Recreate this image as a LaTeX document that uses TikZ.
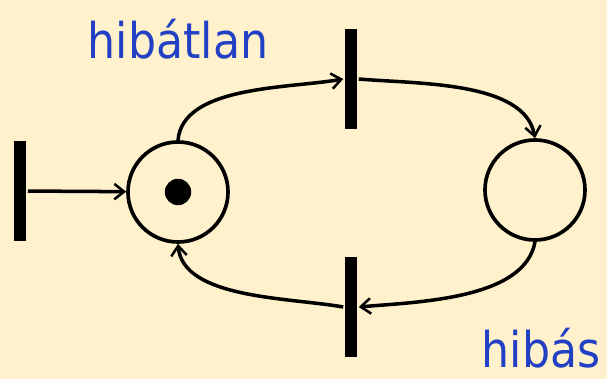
\documentclass[tikz,border=0pt]{standalone}
\usepackage{fontspec}
\setsansfont{DejaVu Sans Condensed}
\usepackage{tikz}
\usetikzlibrary{
    positioning,
    arrows.meta
}
\definecolor{hatter}{HTML}{FFF1CC}
\definecolor{felirat}{HTML}{2240C4}
\tikzset{
    >={Straight Barb[length=7pt,width=11pt,line width=1.8pt]},
    hely/.style={
        circle,
        draw,
        line width=2.6pt,
        minimum size=2.5cm,
        inner sep=0pt
    },
    atmenet/.style={
        rectangle,
        fill=black,
        minimum width=0.3cm,
        minimum height=2.5cm,
        inner sep=0pt
    },
    jelzo/.style={
        circle,
        fill=black,
        minimum size=0.66cm,
        inner sep=0pt
    },
    cimke/.style={
        font=\sffamily\fontsize{35}{40}\selectfont,
        text=felirat,
        inner sep=0pt
    }
}

\begin{document}
\begin{tikzpicture}[
    x=0.025cm,
    y=-0.025cm,
    line width=2.5pt
]

    % Hatter
    \fill[hatter] (0,0) rectangle (607,379);
    \useasboundingbox (0,0) rectangle (607,379);

    % Helyek
    \node[hely] (p1) at (178,192) {};
    \node[hely] (p2) at (535,190) {};
    \node[jelzo] (tok) at (p1.center) {};

    % Atmenetek
    \node[atmenet] (t0) at (20,191)  {};
    \node[atmenet] (t1) at (351,79)  {};
    \node[atmenet] (t2) at (351,307) {};

    % Feliratok
    \node[cimke, anchor=base] (hl) at (178,59)  {hibátlan};
    \node[cimke, anchor=base] (hs) at (541,368) {hibás};

    % Elek
    \path[->]
        (t0)
            edge (p1)
        (p1.north)
            edge[out=85, in=190, looseness=0.8] (t1.west)
        (t1.east)
            edge[out=-5, in=100, looseness=0.8] (p2.north)
        (p2.south)
            edge[out=-100, in=5, looseness=0.8] (t2.east)
        (t2.west)
            edge[out=170, in=-85, looseness=0.8] (p1.south);

\end{tikzpicture}
\end{document}
